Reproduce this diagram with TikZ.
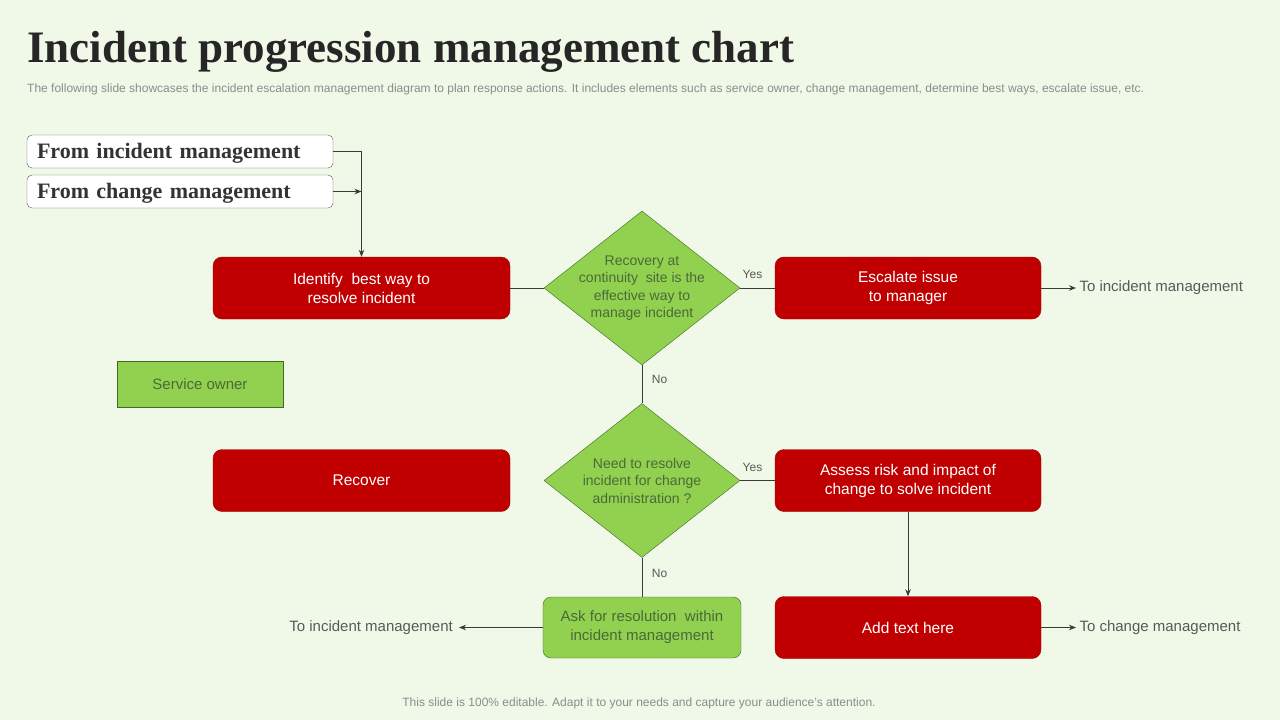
\documentclass[tikz,border=0pt]{standalone}
\usepackage{fontspec}
\setmainfont{Liberation Sans}
\newfontfamily\headfont{Liberation Serif}
\usetikzlibrary{arrows.meta}
\usetikzlibrary{shapes.geometric}
\definecolor{bgcol}{HTML}{F0F8E8}
\definecolor{boxred}{HTML}{C00000}
\definecolor{redline}{HTML}{9A0000}
\definecolor{boxgreen}{HTML}{92D050}
\definecolor{greenline}{HTML}{3F6B25}
\definecolor{greentext}{HTML}{4A6A38}
\definecolor{linecol}{HTML}{3A3A3A}
\definecolor{graytext}{HTML}{595959}
\definecolor{softgray}{HTML}{8C8C8C}

\begin{document}
\begin{tikzpicture}[x=1pt,y=-1pt,
 redbox/.style={draw=redline, fill=boxred, rounded corners=9pt, minimum height=62pt, align=center, text=white, font=\fontsize{15.5}{19}\selectfont},
 greenbox/.style={draw=greenline, fill=boxgreen, align=center, text=greentext, font=\fontsize{15}{19}\selectfont},
 decision/.style={diamond, draw=greenline, fill=boxgreen, minimum width=196pt, minimum height=154pt, inner sep=0pt},
 frombox/.style={draw=graytext, fill=white, rounded corners=5pt, minimum height=33pt, text width=286pt, text height=19pt, text depth=4.5pt, inner xsep=10pt, inner ysep=0pt, align=left, text=black!80, font=\headfont\bfseries\fontsize{22}{24}\selectfont},
 outtext/.style={text=graytext, font=\fontsize{15}{18}\selectfont},
 yesno/.style={text=graytext, font=\fontsize{12}{14}\selectfont},
 flow/.style={draw=linecol, line width=1pt},
 >={Stealth[length=7pt,width=5.5pt]}]
\fill[bgcol] (0,0) rectangle (1280,720);
\useasboundingbox (0,0) rectangle (1280,720);

\node[anchor=base west, inner sep=0pt, text=black!85, font=\headfont\bfseries\fontsize{45}{50}\selectfont] (title) at (27,62) {Incident progression management chart};
\node[anchor=base west, inner sep=0pt, text=softgray, font=\fontsize{12}{14}\selectfont] (subtitle) at (27,92) {The following slide showcases the incident escalation management diagram to plan response actions. It includes elements such as service owner, change management, determine best ways, escalate issue, etc.};

\node[frombox] (fromInc) at (180,151.5) {From incident management};
\node[frombox] (fromChg) at (180,191.5) {From change management};

\node[redbox, minimum width=297pt] (identify) at (361.5,288) {Identify\ \ best way to\\resolve incident};
\node[redbox, minimum width=297pt] (recover) at (361.5,480.5) {Recover};
\node[redbox, minimum width=266pt] (escalate) at (908,288) {Escalate issue\\to manager};
\node[redbox, minimum width=266pt] (assess) at (908,480.5) {Assess risk and impact of\\change to solve incident};
\node[redbox, minimum width=266pt] (addtext) at (908,627.5) {Add text here};

\node[decision, label={[align=center, text=greentext, font=\fontsize{14}{17.5}\selectfont]center:Recovery at\\continuity\ \ site is the\\effective way to\\manage incident}] (recovery) at (642,288) {};
\node[decision, label={[align=center, text=greentext, font=\fontsize{14}{17.5}\selectfont]center:Need to resolve\\incident for change\\administration ?}] (needres) at (642,480.5) {};

\node[greenbox, minimum width=166pt, minimum height=46pt] (owner) at (200,384) {Service owner};
\node[greenbox, rounded corners=8pt, minimum width=198pt, minimum height=61pt] (askres) at (642,627.5) {Ask for resolution\ \ within\\incident management};

\node[outtext, anchor=west] (toIncA) at (1076,288) {To incident management};
\node[outtext, anchor=east, inner xsep=6pt] (toIncB) at (459,627.5) {To incident management};
\node[outtext, anchor=west] (toChg) at (1076,627.5) {To change management};

\draw[flow, ->] (fromInc.east) -| (identify.north);
\draw[flow, ->] (fromChg.east) -- (fromChg.east -| identify.north);
\draw[flow] (identify.east) -- (recovery.west);
\draw[flow] (recovery.east) -- node[yesno, above, yshift=6pt, xshift=-5pt] {Yes} (escalate.west);
\draw[flow] (recovery.south) -- node[yesno, right, xshift=6pt, yshift=5pt] {No} (needres.north);
\draw[flow] (needres.east) -- node[yesno, above, yshift=5pt, xshift=-5pt] {Yes} (assess.west);
\draw[flow] (needres.south) -- node[yesno, right, xshift=6pt, yshift=4pt] {No} (askres.north);
\draw[flow, ->] (assess.south) -- (addtext.north);
\draw[flow, ->] (escalate.east) -- (toIncA.west);
\draw[flow, ->] (addtext.east) -- (toChg.west);
\draw[flow, ->] (askres.west) -- (toIncB.east);

\node[text=softgray, font=\fontsize{12}{14}\selectfont] (footer) at (639,703) {This slide is 100\% editable. Adapt it to your needs and capture your audience's attention.};
\end{tikzpicture}
\end{document}
